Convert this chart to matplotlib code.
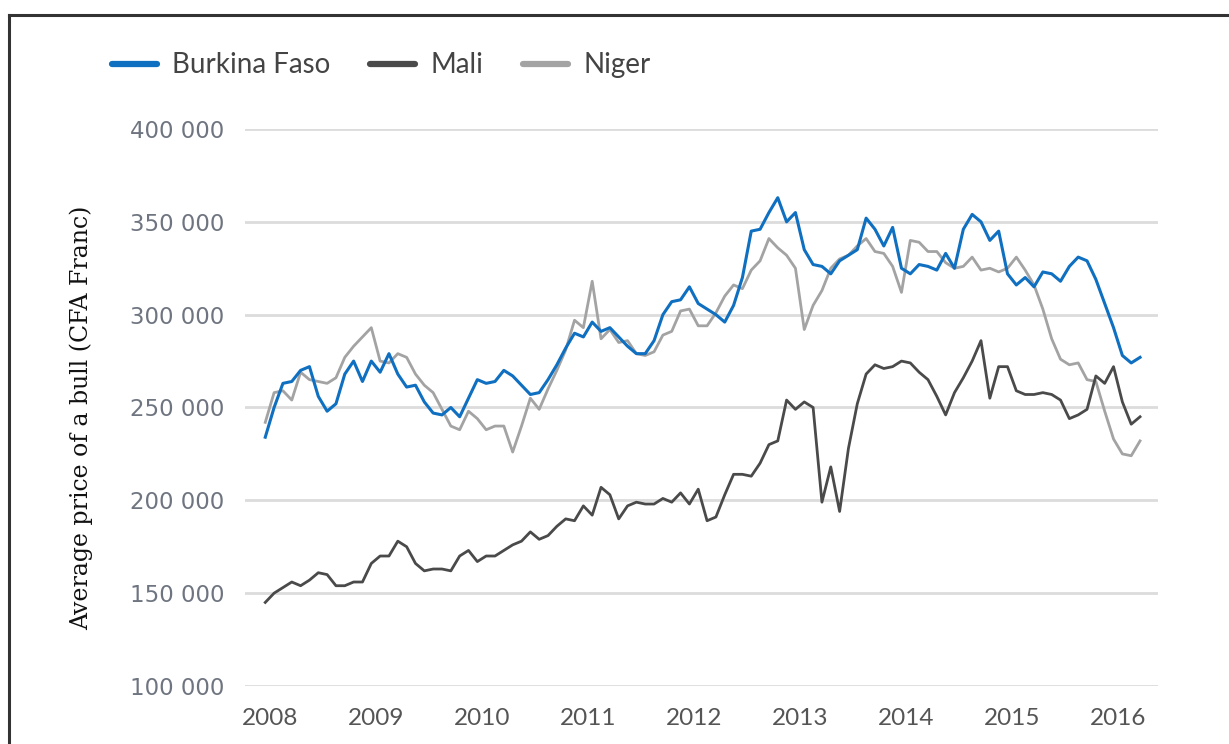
import numpy as np
import matplotlib.pyplot as plt
from matplotlib.lines import Line2D

# monthly average price of a bull, Jan 2008 - Apr 2016 (thousand CFA franc)
burkina = [234, 250, 263, 264, 270, 272, 256, 248, 252, 268,
           275, 264, 275, 269, 279, 268, 261, 262, 253, 247,
           246, 250, 245, 255, 265, 263, 264, 270, 267, 262,
           257, 258, 265, 273, 282, 290, 288, 296, 291, 293,
           288, 283, 279, 279, 286, 300, 307, 308, 315, 306,
           303, 300, 296, 305, 320, 345, 346, 355, 363, 350,
           355, 335, 327, 326, 322, 329, 332, 335, 352, 346,
           337, 347, 325, 322, 327, 326, 324, 333, 325, 346,
           354, 350, 340, 345, 322, 316, 320, 315, 323, 322,
           318, 326, 331, 329, 319, 306, 293, 278, 274, 277]
mali = [145, 150, 153, 156, 154, 157, 161, 160, 154, 154,
        156, 156, 166, 170, 170, 178, 175, 166, 162, 163,
        163, 162, 170, 173, 167, 170, 170, 173, 176, 178,
        183, 179, 181, 186, 190, 189, 197, 192, 207, 203,
        190, 197, 199, 198, 198, 201, 199, 204, 198, 206,
        189, 191, 203, 214, 214, 213, 220, 230, 232, 254,
        249, 253, 250, 199, 218, 194, 228, 252, 268, 273,
        271, 272, 275, 274, 269, 265, 256, 246, 258, 266,
        275, 286, 255, 272, 272, 259, 257, 257, 258, 257,
        254, 244, 246, 249, 267, 263, 272, 253, 241, 245]
niger = [242, 258, 259, 254, 269, 265, 264, 263, 266, 277,
         283, 288, 293, 275, 274, 279, 277, 268, 262, 258,
         249, 240, 238, 248, 244, 238, 240, 240, 226, 240,
         255, 249, 260, 270, 281, 297, 293, 318, 287, 292,
         285, 286, 279, 278, 280, 289, 291, 302, 303, 294,
         294, 301, 310, 316, 314, 324, 329, 341, 336, 332,
         325, 292, 305, 313, 325, 330, 332, 337, 341, 334,
         333, 326, 312, 340, 339, 334, 334, 328, 325, 326,
         331, 324, 325, 323, 325, 331, 324, 316, 303, 287,
         276, 273, 274, 265, 264, 248, 233, 225, 224, 232]
years = ['2008', '2009', '2010', '2011', '2012', '2013', '2014', '2015', '2016']
yticks = [100000, 150000, 200000, 250000, 300000, 350000, 400000]

months = np.arange(len(burkina))

fig = plt.figure(figsize=(12.29, 7.44), dpi=100)
ax = fig.add_axes([0.1993, 0.078, 0.7427, 0.7486])

ax.plot(months, np.array(niger) * 1000, color='#a3a3a3', lw=2.0, label='Niger', zorder=3)
ax.plot(months, np.array(mali) * 1000, color='#4a4a4a', lw=2.0, label='Mali', zorder=3)
ax.plot(months, np.array(burkina) * 1000, color='#0f6fc0', lw=2.2, label='Burkina Faso', zorder=4)

ax.set_xlim(-2.3, 101)
ax.set_ylim(100000, 400000)
ax.set_yticks(yticks)
ax.set_yticklabels([f'{v:,}'.replace(',', ' ') for v in yticks],
                   fontsize=16.5, color='#6f7580', family='DejaVu Sans')
ax.set_xticks(np.arange(0, 97, 12) + 0.5)
ax.set_xticklabels(years, fontsize=17.5, color='#555555', family='Lato')
ax.tick_params(axis='y', length=0, pad=15)
ax.tick_params(axis='x', length=0, pad=16)
for s in ax.spines.values():
    s.set_visible(False)
ax.grid(axis='y', color='#dcdcdc', lw=2)
ax.set_axisbelow(True)

ax.set_ylabel('Average price of a bull (CFA Franc)', fontsize=17,
              family='DejaVu Serif', color='#111111')
ax.yaxis.set_label_coords(-0.166, 0.481)

h = [Line2D([], [], color='#0f6fc0', lw=4.5, solid_capstyle='round'),
     Line2D([], [], color='#4a4a4a', lw=4.5, solid_capstyle='round'),
     Line2D([], [], color='#a3a3a3', lw=4.5, solid_capstyle='round')]
fig.legend(h, ['Burkina Faso', 'Mali', 'Niger'], loc='center left',
           bbox_to_anchor=(0.080, 0.912), ncol=3, frameon=False,
           prop={'family': 'Lato', 'size': 20}, labelcolor='#444444',
           handlelength=1.6, handletextpad=0.55, columnspacing=1.45,
           borderpad=0.0)

# outer frame (top and left edges visible)
fig.add_artist(Line2D([0.0073, 1.0], [0.98, 0.98], color='#333333', lw=2.2))
fig.add_artist(Line2D([0.0073, 0.0073], [0.0, 0.98], color='#333333', lw=2.2))

fig.savefig('out.png', dpi=100)
